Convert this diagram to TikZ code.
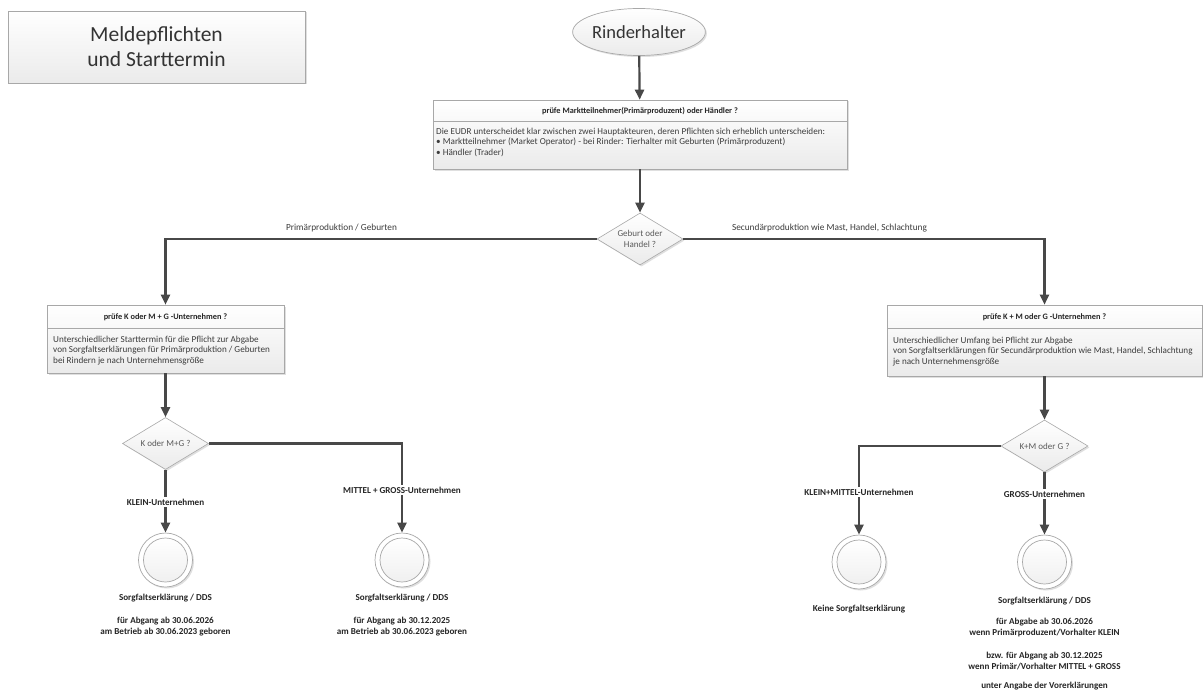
\documentclass[tikz,border=0pt]{standalone}
\usepackage{fontspec}
\setmainfont{Carlito}
\usetikzlibrary{arrows.meta,shapes.geometric,shadows}
\definecolor{lc}{HTML}{484848}
\definecolor{bc}{HTML}{A8A8A8}
\definecolor{tc}{HTML}{3C3C3C}
\definecolor{dc}{HTML}{5A5A5A}
\begin{document}
\begin{tikzpicture}[x=1pt,y=-1pt,
  conn/.style={draw=lc, line width=2.2pt},
  arr/.style={conn, -{Triangle[length=10pt,width=9pt]}},
  shade/.style={top color=white, bottom color=gray!16},
  sh/.style={drop shadow={opacity=0.25, shadow xshift=1.5pt, shadow yshift=-1.5pt}},
  box/.style={rectangle, draw=bc, line width=0.6pt, shade, sh, inner sep=0pt},
  divline/.style={draw=bc, line width=0.6pt},
  head/.style={font=\fontsize{8.3}{9}\selectfont\bfseries, text=black!85, inner sep=0pt},
  body/.style={font=\fontsize{9.15}{10.8}\selectfont, text=tc, align=left, inner sep=0pt, anchor=north west},
  dia/.style={diamond, draw=bc, line width=0.6pt, shade, sh, aspect=1.65, inner sep=0pt,
    font=\fontsize{9}{11.5}\selectfont, text=dc, align=center},
  outc/.style={circle, draw=bc, line width=0.7pt, fill=white, minimum size=54pt, inner sep=0pt, sh},
  inc/.style={circle, draw=bc, line width=0.7pt, top color=white, bottom color=gray!12, minimum size=44pt, inner sep=0pt},
  lab/.style={font=\fontsize{9.3}{10}\selectfont, text=tc, inner sep=1pt},
  blab/.style={font=\fontsize{9.1}{11}\selectfont\bfseries, text=black!85, align=center, inner sep=1.5pt},
]
\useasboundingbox[fill=white] (0,0) rectangle (1203,693);

% title
\node[box, minimum width=297pt, minimum height=72pt, align=center,
  font=\fontsize{21.5}{25}\selectfont, text=black!80] (title) at (156.5,47) {Meldepflichten\\und Starttermin};

% start ellipse
\node[ellipse, draw=bc, line width=0.7pt, shade, sh, minimum width=118pt, minimum height=47pt, inner sep=0pt,
  font=\fontsize{18.5}{20}\selectfont, text=black!80] (start) at (639,32) {Rinderhalter};

% box 1
\node[box, minimum width=414pt, minimum height=69pt] (b1) at (640,134.5) {};
\draw[divline] (433,121) -- (847,121);
\node[head] (h1) at (640,111) {prüfe Marktteilnehmer(Primärproduzent) oder Händler ?};
\node[body] (t1) at (436,127.5) {Die EUDR unterscheidet klar zwischen zwei Hauptakteuren, deren Pflichten sich erheblich unterscheiden:\\
• Marktteilnehmer (Market Operator) - bei Rinder: Tierhalter mit Geburten (Primärproduzent)\\
• Händler (Trader)};

% decision 1
\node[dia, minimum width=86pt, minimum height=52pt] (d1) at (640,239) {Geburt oder\\Handel ?};

% box 2
\node[box, minimum width=237pt, minimum height=68pt] (b2) at (165.5,339) {};
\draw[divline] (47,328) -- (284,328);
\node[head] (h2) at (165.5,317) {prüfe K oder M + G -Unternehmen ?};
\node[body] (t2) at (53,335.5) {Unterschiedlicher Starttermin für die Pflicht zur Abgabe\\
von Sorgfaltserklärungen für Primärproduktion / Geburten\\
bei Rindern je nach Unternehmensgröße};

% box 3
\node[box, minimum width=315pt, minimum height=71pt] (b3) at (1044.5,340.5) {};
\draw[divline] (887,328) -- (1202,328);
\node[head] (h3) at (1044.5,317) {prüfe K + M oder G -Unternehmen ?};
\node[body] (t3) at (893,336.5) {Unterschiedlicher Umfang bei Pflicht zur Abgabe\\
von Sorgfaltserklärungen für Secundärproduktion wie Mast, Handel, Schlachtung\\
je nach Unternehmensgröße};

% decisions 2, 3
\node[dia, minimum width=86pt, minimum height=52pt] (d2) at (165.5,443.5) {K oder M+G ?};
\node[dia, minimum width=87pt, minimum height=52pt] (d3) at (1044.5,446) {K+M oder G ?};

% end circles
\node[outc] (c1) at (165.5,560) {};
\node[inc] (c1i) at (c1) {};
\node[outc] (c2) at (402,560) {};
\node[inc] (c2i) at (c2) {};
\node[outc] (c3) at (859,562) {};
\node[inc] (c3i) at (c3) {};
\node[outc] (c4) at (1044.5,562) {};
\node[inc] (c4i) at (c4) {};

% connectors
\draw[arr] (start) -- (b1);
\draw[arr] (b1) -- (d1);
\draw[arr] (d1.west) -| (b2.north);
\draw[arr] (d1.east) -| (b3.north);
\draw[arr] (b2) -- (d2);
\draw[arr] (b3) -- (d3);
\draw[arr] (d2.south) -- (c1.north);
\draw[arr] (d2.east) -| (c2.north);
\draw[arr] (d3.west) -| (c3.north);
\draw[arr] (d3.south) -- (c4.north);

% connector labels
\node[lab] (l1) at (341.5,228) {Primärproduktion / Geburten};
\node[lab] (l2) at (829.5,228) {Secundärproduktion wie Mast, Handel, Schlachtung};
\node[blab, fill=white] (l3) at (165.5,502) {KLEIN-Unternehmen};
\node[blab, fill=white] (l4) at (402,490) {MITTEL + GROSS-Unternehmen};
\node[blab, fill=white] (l5) at (859,492) {KLEIN+MITTEL-Unternehmen};
\node[blab, fill=white] (l6) at (1044.5,494) {GROSS-Unternehmen};

% result texts
\node[blab] (r1a) at (165.5,598) {Sorgfaltserklärung / DDS};
\node[blab] (r1b) at (165.5,626.5) {für Abgang ab 30.06.2026\\am Betrieb ab 30.06.2023 geboren};
\node[blab] (r2a) at (402,598) {Sorgfaltserklärung / DDS};
\node[blab] (r2b) at (402,626.5) {für Abgang ab 30.12.2025\\am Betrieb ab 30.06.2023 geboren};
\node[blab] (r3a) at (859,609) {Keine Sorgfaltserklärung};
\node[blab] (r4a) at (1044.5,601) {Sorgfaltserklärung / DDS};
\node[blab] (r4b) at (1044.5,628) {für Abgabe ab 30.06.2026\\wenn Primärproduzent/Vorhalter KLEIN};
\node[blab] (r4c) at (1044.5,661.5) {bzw. für Abgang ab 30.12.2025\\wenn Primär/Vorhalter MITTEL + GROSS};
\node[blab] (r4d) at (1044.5,686) {unter Angabe der Vorerklärungen};
\end{tikzpicture}
\end{document}
